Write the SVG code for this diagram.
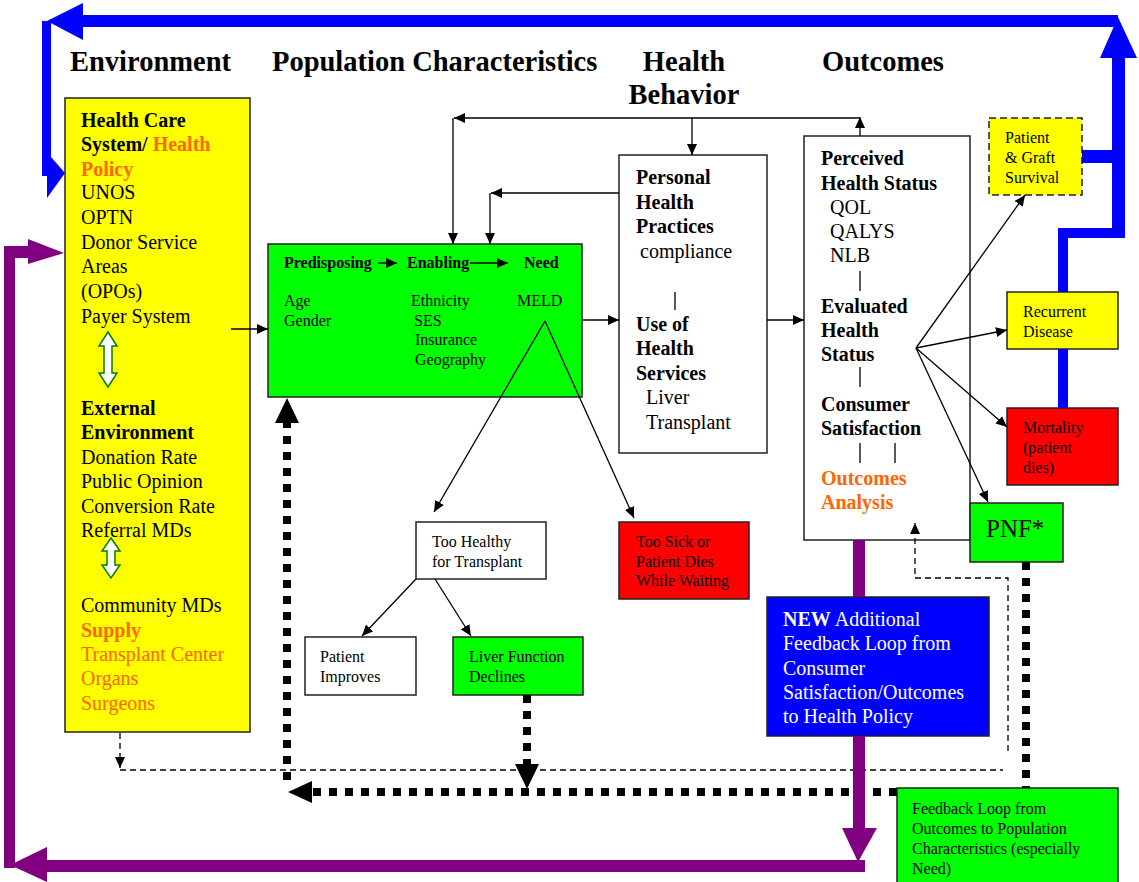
<svg xmlns="http://www.w3.org/2000/svg" width="1139" height="882" viewBox="0 0 1139 882">
<style>
text{font-family:"Liberation Serif","Times New Roman",serif;fill:#000}
.h{font-size:28.5px;font-weight:bold}
.t20{font-size:20px}
.t16{font-size:16px}
.b{font-weight:bold}
.or{fill:#FF6600}
.box{stroke:#222;stroke-width:1.5}
.thin{fill:none;stroke:#000;stroke-width:1.3}
.dash{fill:none;stroke:#000;stroke-width:1.3;stroke-dasharray:6 4}
.dot{fill:none;stroke:#000;stroke-width:8;stroke-dasharray:8 8}
.blue{fill:#0000FF}
.pur{fill:#800080}
.dbl{fill:#fff;stroke:#008000;stroke-width:1.5}
</style>
<defs>
<marker id="ar" markerUnits="userSpaceOnUse" markerWidth="12" markerHeight="10" refX="11" refY="5" orient="auto">
<path d="M0,0 L11,5 L0,10 z" fill="#000"/>
</marker>
</defs>
<rect width="1139" height="882" fill="#fff"/>

<!-- headings -->
<text class="h" x="70" y="71">Environment</text>
<text class="h" x="272" y="71">Population Characteristics</text>
<text class="h" x="684" y="71" text-anchor="middle">Health</text>
<text class="h" x="684" y="104" text-anchor="middle">Behavior</text>
<text class="h" x="822" y="71">Outcomes</text>

<!-- nodes -->
<g id="environment">
<rect class="box" x="65" y="98" width="185" height="634" fill="#FFFF00"/>
<text class="t20 b" x="81" y="127">Health Care</text>
<text class="t20 b" x="81" y="151">System/ <tspan class="or">Health</tspan></text>
<text class="t20 b or" x="81" y="176">Policy</text>
<text class="t20" x="81" y="199">UNOS</text>
<text class="t20" x="81" y="224">OPTN</text>
<text class="t20" x="81" y="249">Donor Service</text>
<text class="t20" x="81" y="273">Areas</text>
<text class="t20" x="81" y="298">(OPOs)</text>
<text class="t20" x="81" y="323">Payer System</text>
<polygon class="dbl" points="108,332 117,346 112,346 112,373 117,373 108,387 99,373 104,373 104,346 99,346"/>
<text class="t20 b" x="81" y="415">External</text>
<text class="t20 b" x="81" y="439">Environment</text>
<text class="t20" x="81" y="464">Donation Rate</text>
<text class="t20" x="81" y="488">Public Opinion</text>
<text class="t20" x="81" y="513">Conversion Rate</text>
<text class="t20" x="81" y="537">Referral MDs</text>
<polygon class="dbl" points="111,538 120,551 115,551 115,565 120,565 111,578 102,565 107,565 107,551 102,551"/>
<text class="t20" x="81" y="612">Community MDs</text>
<text class="t20 b or" x="81" y="637">Supply</text>
<text class="t20 or" x="81" y="661">Transplant Center</text>
<text class="t20 or" x="81" y="685">Organs</text>
<text class="t20 or" x="81" y="710">Surgeons</text>
</g>

<g id="population">
<rect class="box" x="268" y="244" width="314" height="153" fill="#00FF00"/>
<text class="t16 b" x="284" y="268">Predisposing</text>
<text class="t16 b" x="407" y="268">Enabling</text>
<text class="t16 b" x="524" y="268">Need</text>
<line class="thin" x1="378" y1="263" x2="397" y2="263" marker-end="url(#ar)"/>
<line class="thin" x1="470" y1="263" x2="508" y2="263" marker-end="url(#ar)"/>
<text class="t16" x="284" y="306">Age</text>
<text class="t16" x="284" y="326">Gender</text>
<text class="t16" x="411" y="306">Ethnicity</text>
<text class="t16" x="414" y="326">SES</text>
<text class="t16" x="415" y="345">Insurance</text>
<text class="t16" x="415" y="365">Geography</text>
<text class="t16" x="517" y="306">MELD</text>
</g>

<g id="health-behavior">
<rect class="box" x="619" y="155" width="148" height="298" fill="#fff"/>
<text class="t20 b" x="636" y="184">Personal</text>
<text class="t20 b" x="636" y="209">Health</text>
<text class="t20 b" x="636" y="233">Practices</text>
<text class="t20" x="640" y="258">compliance</text>
<line class="thin" x1="675" y1="292" x2="675" y2="310"/>
<text class="t20 b" x="636" y="331">Use of</text>
<text class="t20 b" x="636" y="355">Health</text>
<text class="t20 b" x="636" y="380">Services</text>
<text class="t20" x="646" y="404">Liver</text>
<text class="t20" x="646" y="429">Transplant</text>
</g>

<g id="outcomes">
<rect class="box" x="804" y="136" width="166" height="404" fill="#fff"/>
<text class="t20 b" x="821" y="165">Perceived</text>
<text class="t20 b" x="821" y="190">Health Status</text>
<text class="t20" x="830" y="214">QOL</text>
<text class="t20" x="830" y="238">QALYS</text>
<text class="t20" x="830" y="262">NLB</text>
<line class="thin" x1="860" y1="271" x2="860" y2="291"/>
<text class="t20 b" x="821" y="313">Evaluated</text>
<text class="t20 b" x="821" y="337">Health</text>
<text class="t20 b" x="821" y="361">Status</text>
<line class="thin" x1="860" y1="367" x2="860" y2="387"/>
<text class="t20 b" x="821" y="411">Consumer</text>
<text class="t20 b" x="821" y="435">Satisfaction</text>
<line class="thin" x1="860" y1="443" x2="860" y2="463"/>
<line class="thin" x1="895" y1="443" x2="895" y2="463"/>
<text class="t20 b or" x="821" y="485">Outcomes</text>
<text class="t20 b or" x="821" y="509">Analysis</text>
</g>

<g id="patient-graft-survival">
<rect x="989" y="118" width="93" height="77" fill="#FFFF00" stroke="#222" stroke-width="1.5" stroke-dasharray="7 4"/>
<text class="t16" x="1005" y="143">Patient</text>
<text class="t16" x="1005" y="163">&amp; Graft</text>
<text class="t16" x="1005" y="183">Survival</text>
</g>

<g id="recurrent-disease">
<rect class="box" x="1007" y="292" width="111" height="57" fill="#FFFF00"/>
<text class="t16" x="1023" y="317">Recurrent</text>
<text class="t16" x="1023" y="337">Disease</text>
</g>

<g id="mortality">
<rect class="box" x="1007" y="408" width="111" height="77" fill="#FF0000"/>
<text class="t16" x="1023" y="433">Mortality</text>
<text class="t16" x="1023" y="453">(patient</text>
<text class="t16" x="1023" y="473">dies)</text>
</g>

<g id="pnf">
<rect class="box" x="970" y="503" width="93" height="59" fill="#00FF00"/>
<text x="986" y="537" style="font-size:25px">PNF*</text>
</g>

<g id="too-healthy">
<rect class="box" x="416" y="522" width="130" height="57" fill="#fff"/>
<text class="t16" x="432" y="547">Too Healthy</text>
<text class="t16" x="432" y="567">for Transplant</text>
</g>

<g id="too-sick">
<rect class="box" x="619" y="522" width="130" height="77" fill="#FF0000"/>
<text class="t16" x="636" y="547">Too Sick or</text>
<text class="t16" x="636" y="567">Patient Dies</text>
<text class="t16" x="636" y="586">While Waiting</text>
</g>

<g id="patient-improves">
<rect class="box" x="305" y="637" width="111" height="58" fill="#fff"/>
<text class="t16" x="320" y="662">Patient</text>
<text class="t16" x="320" y="682">Improves</text>
</g>

<g id="liver-function">
<rect class="box" x="453" y="637" width="130" height="58" fill="#00FF00"/>
<text class="t16" x="469" y="662">Liver Function</text>
<text class="t16" x="469" y="682">Declines</text>
</g>

<g id="new-feedback">
<rect class="box" x="767" y="597" width="222" height="139" fill="#0000FF"/>
<text class="t20" x="783" y="626" style="fill:#fff"><tspan class="b" style="fill:#fff">NEW</tspan> Additional</text>
<text class="t20" x="783" y="650" style="fill:#fff">Feedback Loop from</text>
<text class="t20" x="783" y="675" style="fill:#fff">Consumer</text>
<text class="t20" x="783" y="699" style="fill:#fff">Satisfaction/Outcomes</text>
<text class="t20" x="783" y="723" style="fill:#fff">to Health Policy</text>
</g>

<g id="feedback-population">
<rect class="box" x="897" y="788" width="221" height="100" fill="#00FF00"/>
<text class="t16" x="912" y="814">Feedback Loop from</text>
<text class="t16" x="912" y="834">Outcomes to Population</text>
<text class="t16" x="912" y="854">Characteristics (especially</text>
<text class="t16" x="912" y="874">Need)</text>
</g>

<!-- connectors -->
<g id="connectors">
<line class="dot" x1="287" y1="780" x2="287" y2="423"/>
<polygon points="287,398 299,423 275,423" fill="#000"/>
<line class="dot" x1="897" y1="792" x2="312" y2="792"/>
<polygon points="288,792 312,781 312,803" fill="#000"/>
<line class="dot" x1="527" y1="695" x2="527" y2="764"/>
<polygon points="527,789 515,764 539,764" fill="#000"/>
<line class="dot" x1="1026" y1="562" x2="1026" y2="788"/>
<path class="dash" d="M120,733 V768" marker-end="url(#ar)"/>
<path class="dash" d="M120,770 H1003"/>
<path class="dash" d="M1008,751 V578 H915 V523" marker-end="url(#ar)"/>
<rect class="pur" x="853" y="540" width="12" height="57"/>
<rect class="pur" x="853" y="736" width="12" height="94"/>
<polygon class="pur" points="842,828 877,828 858,862"/>
<rect class="pur" x="40" y="860" width="825" height="12"/>
<polygon class="pur" points="10,865 47,847 47,882"/>
<rect class="pur" x="4" y="247" width="11" height="621"/>
<rect class="pur" x="4" y="246" width="26" height="12"/>
<polygon class="pur" points="28,239 64,253 28,264"/>
<rect class="blue" x="1058" y="232" width="10" height="60"/>
<rect class="blue" x="1058" y="349" width="10" height="59"/>
<rect class="blue" x="1058" y="228" width="67" height="10"/>
<rect class="blue" x="1112" y="56" width="13" height="182"/>
<rect class="blue" x="1082" y="150" width="32" height="13"/>
<polygon class="blue" points="1118,17 1137,58 1100,58"/>
<rect class="blue" x="80" y="15" width="1038" height="12"/>
<polygon class="blue" points="47,21 83,3 83,40"/>
<polygon class="blue" points="42,21 51,21 51,157 65,173 47,198 47,176 42,176"/>
<path class="thin" d="M860,118 H454" marker-end="url(#ar)"/>
<path class="thin" d="M453,118 V244" marker-end="url(#ar)"/>
<path class="thin" d="M692,118 V155" marker-end="url(#ar)"/>
<path class="thin" d="M860,136 V117" marker-end="url(#ar)"/>
<path class="thin" d="M619,193 H491" marker-end="url(#ar)"/>
<path class="thin" d="M490,193 V244" marker-end="url(#ar)"/>
<path class="thin" d="M231,329 H268" marker-end="url(#ar)"/>
<path class="thin" d="M583,320 H619" marker-end="url(#ar)"/>
<path class="thin" d="M767,320 H804" marker-end="url(#ar)"/>
<path class="thin" d="M545,321 L434,512" marker-end="url(#ar)"/>
<path class="thin" d="M545,321 L634,518" marker-end="url(#ar)"/>
<path class="thin" d="M416,579 L362,636" marker-end="url(#ar)"/>
<path class="thin" d="M435,579 L471,636" marker-end="url(#ar)"/>
<path class="thin" d="M916,348 L1025,195" marker-end="url(#ar)"/>
<path class="thin" d="M916,348 L1007,330" marker-end="url(#ar)"/>
<path class="thin" d="M916,348 L1007,427" marker-end="url(#ar)"/>
<path class="thin" d="M916,348 L988,502" marker-end="url(#ar)"/>
</g>
</svg>
